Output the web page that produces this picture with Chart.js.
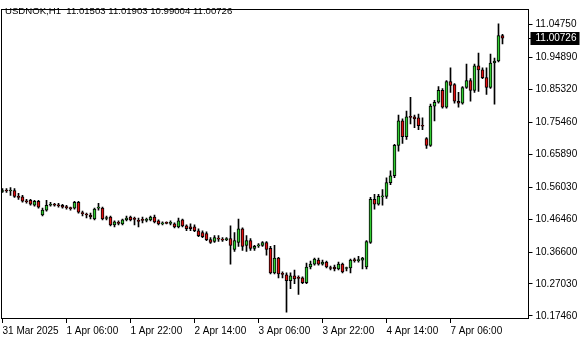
<!DOCTYPE html>
<html>
<head>
<meta charset="utf-8">
<script src="https://cdn.jsdelivr.net/npm/chart.js@4.4.1/dist/chart.umd.min.js"></script>
<style>
  html, body { margin: 0; padding: 0; background: #fff; }
  #chart { display: block; }
</style>
</head>
<body>
<canvas id="chart" width="580" height="340"></canvas>
<script>
const symbolTitle = 'USDNOK,H1  11.01503 11.01903 10.99004 11.00726';

// hourly bars, 31 Mar 14:00 .. 7 Apr 19:00
const open = [
  10.5475, 10.5505, 10.5490, 10.5505, 10.5328, 10.5313, 10.5181, 10.5210, 10.5063, 10.5181,
  10.4769, 10.4916, 10.5063, 10.5093, 10.5063, 10.5063, 10.5004, 10.4975, 10.4975, 10.5151,
  10.4828, 10.4798, 10.4769, 10.4651, 10.4975, 10.4975, 10.4666, 10.4710, 10.4475, 10.4534,
  10.4504, 10.4622, 10.4710, 10.4651, 10.4592, 10.4622, 10.4607, 10.4622, 10.4710, 10.4592,
  10.4504, 10.4534, 10.4519, 10.4504, 10.4416, 10.4622, 10.4445, 10.4416, 10.4416, 10.4298,
  10.4240, 10.4210, 10.4034, 10.3975, 10.4063, 10.4034, 10.4034, 10.4063, 10.3739, 10.3945,
  10.4357, 10.3857, 10.4004, 10.3769, 10.3842, 10.3857, 10.3945, 10.3769, 10.3034, 10.3475,
  10.3004, 10.2975, 10.2798, 10.2946, 10.2887, 10.2887, 10.2740, 10.3210, 10.3298, 10.3416,
  10.3298, 10.3357, 10.3181, 10.3210, 10.3151, 10.3298, 10.3166, 10.3181, 10.3416, 10.3401,
  10.3416, 10.3210, 10.3945, 10.5240, 10.5093, 10.5313, 10.5328, 10.5740, 10.5946, 10.6857,
  10.7593, 10.7122, 10.7710, 10.7710, 10.7681, 10.7445, 10.7063, 10.6857, 10.8034, 10.8151,
  10.8504, 10.8004, 10.8769, 10.8681, 10.8181, 10.8122, 10.8593, 10.8798, 10.8504, 10.9240,
  10.9122, 10.8887, 10.8593, 10.9328, 10.9387, 11.0150
];
const high = [
  10.5563, 10.5563, 10.5593, 10.5563, 10.5416, 10.5357, 10.5240, 10.5240, 10.5210, 10.5210,
  10.4975, 10.5210, 10.5151, 10.5122, 10.5122, 10.5093, 10.5063, 10.5004, 10.5181, 10.5181,
  10.4887, 10.4828, 10.4828, 10.4975, 10.5122, 10.5004, 10.4739, 10.4739, 10.4592, 10.4592,
  10.4651, 10.4739, 10.4739, 10.4710, 10.4681, 10.4710, 10.4681, 10.4739, 10.4769, 10.4622,
  10.4563, 10.4563, 10.4592, 10.4534, 10.4681, 10.4651, 10.4475, 10.4504, 10.4475, 10.4357,
  10.4298, 10.4269, 10.4092, 10.4151, 10.4151, 10.4092, 10.4092, 10.4445, 10.4240, 10.4651,
  10.4386, 10.4151, 10.4063, 10.3857, 10.3916, 10.3975, 10.3975, 10.3828, 10.3857, 10.3504,
  10.3063, 10.3034, 10.3034, 10.3122, 10.2946, 10.2916, 10.3328, 10.3387, 10.3475, 10.3475,
  10.3416, 10.3387, 10.3240, 10.3269, 10.3357, 10.3328, 10.3210, 10.3445, 10.3475, 10.3534,
  10.3504, 10.4004, 10.5299, 10.5387, 10.5387, 10.5534, 10.5887, 10.6093, 10.6887, 10.7769,
  10.7651, 10.7887, 10.8299, 10.7769, 10.7798, 10.7681, 10.7092, 10.8093, 10.8210, 10.8622,
  10.8563, 10.8798, 10.9181, 10.8710, 10.8445, 10.8622, 10.9298, 10.8857, 10.9298, 10.9622,
  10.9181, 10.9181, 10.9592, 10.9475, 11.0505, 11.0190
];
const low = [
  10.5446, 10.5446, 10.5357, 10.5299, 10.5240, 10.5151, 10.5122, 10.5063, 10.5034, 10.4975,
  10.4739, 10.4887, 10.5034, 10.5034, 10.5004, 10.4975, 10.4945, 10.4916, 10.4945, 10.4828,
  10.4739, 10.4681, 10.4651, 10.4622, 10.4916, 10.4622, 10.4622, 10.4445, 10.4416, 10.4475,
  10.4475, 10.4592, 10.4592, 10.4475, 10.4416, 10.4534, 10.4563, 10.4592, 10.4534, 10.4475,
  10.4475, 10.4504, 10.4475, 10.4386, 10.4386, 10.4416, 10.4298, 10.4298, 10.4269, 10.4122,
  10.4092, 10.4004, 10.3916, 10.3945, 10.3975, 10.3975, 10.4004, 10.3298, 10.3681, 10.3828,
  10.3710, 10.3681, 10.3710, 10.3710, 10.3798, 10.3828, 10.3563, 10.3004, 10.3004, 10.2887,
  10.2887, 10.1857, 10.2563, 10.2710, 10.2387, 10.2710, 10.2710, 10.3151, 10.3269, 10.3269,
  10.3269, 10.3181, 10.3122, 10.3093, 10.3122, 10.3034, 10.3093, 10.3034, 10.3357, 10.3357,
  10.3151, 10.3151, 10.3916, 10.4945, 10.5063, 10.5063, 10.5269, 10.5681, 10.5887, 10.6681,
  10.6916, 10.7034, 10.7504, 10.7386, 10.7328, 10.7328, 10.6769, 10.6828, 10.7593, 10.8122,
  10.7975, 10.7975, 10.8445, 10.8122, 10.8004, 10.8093, 10.8563, 10.8181, 10.8445, 10.8475,
  10.8857, 10.8387, 10.8563, 10.8093, 10.9357, 10.9900
];
const close = [
  10.5505, 10.5490, 10.5505, 10.5328, 10.5299, 10.5181, 10.5166, 10.5093, 10.5181, 10.5004,
  10.4916, 10.5063, 10.5093, 10.5063, 10.5048, 10.5004, 10.4990, 10.4960, 10.5151, 10.4857,
  10.4813, 10.4769, 10.4710, 10.4945, 10.5004, 10.4651, 10.4681, 10.4475, 10.4563, 10.4519,
  10.4622, 10.4681, 10.4622, 10.4637, 10.4578, 10.4607, 10.4622, 10.4710, 10.4563, 10.4504,
  10.4519, 10.4519, 10.4534, 10.4416, 10.4592, 10.4445, 10.4357, 10.4357, 10.4298, 10.4151,
  10.4122, 10.4034, 10.3945, 10.4092, 10.4048, 10.4019, 10.4048, 10.3857, 10.4004, 10.4357,
  10.3828, 10.4004, 10.3769, 10.3828, 10.3857, 10.3945, 10.3739, 10.3034, 10.3475, 10.3004,
  10.2990, 10.2798, 10.2946, 10.2857, 10.2872, 10.2740, 10.3210, 10.3298, 10.3445, 10.3298,
  10.3357, 10.3210, 10.3166, 10.3151, 10.3298, 10.3063, 10.3181, 10.3416, 10.3401, 10.3416,
  10.3475, 10.3975, 10.5240, 10.5093, 10.5328, 10.5328, 10.5740, 10.5946, 10.6857, 10.7593,
  10.7122, 10.7710, 10.7695, 10.7651, 10.7445, 10.7431, 10.6857, 10.8034, 10.8151, 10.8504,
  10.8004, 10.8769, 10.8652, 10.8181, 10.8122, 10.8593, 10.8798, 10.8504, 10.9240, 10.9122,
  10.8887, 10.8593, 10.9328, 10.9387, 11.0151, 11.00726
];

const timeLabels = ['31 Mar 2025', '1 Apr 06:00', '1 Apr 22:00', '2 Apr 14:00',
                    '3 Apr 06:00', '3 Apr 22:00', '4 Apr 14:00', '7 Apr 06:00'];
const barsPerLabel = 16;
const priceTicks = [11.04750, 10.94890, 10.85320, 10.75460, 10.65890,
                    10.56030, 10.46460, 10.36600, 10.27030, 10.17460];
const lastPrice = 11.00726;

const totalSlots = 132; // bars + empty shift on the right
const labels = Array.from({ length: totalSlots }, (_, i) => i);

const bodies = open.map((o, i) => [o, close[i]]);
const wicks = low.map((l, i) => [l, high[i]]);
const bodyColors = open.map((o, i) => close[i] >= o ? '#32cd32' : '#e01010');

const FAMILY = "'Liberation Sans', Arial, sans-serif";
const FONT = { family: FAMILY, size: 10 };

const framePlugin = {
  id: 'frame',
  afterDraw(chart) {
    const { ctx, chartArea } = chart;
    const l = Math.round(chartArea.left) + 0.5;
    const t = Math.round(chartArea.top) + 0.5;
    const r = Math.round(chartArea.right) - 0.5;
    const b = Math.round(chartArea.bottom) - 0.5;
    ctx.save();
    ctx.strokeStyle = '#000';
    ctx.lineWidth = 1;
    ctx.strokeRect(l, t, r - l, b - t);

    // title in the corner
    ctx.fillStyle = '#000';
    ctx.font = `9.6px ${FAMILY}`;
    ctx.textBaseline = 'middle';
    ctx.textAlign = 'left';
    ctx.fillText(symbolTitle, 5, 11);

    // current price tag on the axis
    ctx.font = `10px ${FAMILY}`;
    const y = Math.round(chart.scales.y.getPixelForValue(lastPrice));
    ctx.fillRect(r, y, 5, 1);
    ctx.fillRect(r + 2, y - 6, 49, 13);
    ctx.fillStyle = '#fff';
    ctx.fillText(lastPrice.toFixed(5), r + 7, y + 0.5);
    ctx.restore();
  }
};

new Chart(document.getElementById('chart'), {
  type: 'bar',
  data: {
    labels: labels,
    datasets: [
      {
        data: bodies,
        backgroundColor: bodyColors,
        borderColor: '#000',
        borderWidth: 1,
        borderSkipped: false,
        barThickness: 3,
        minBarLength: 1,
        order: 0
      },
      {
        data: wicks,
        backgroundColor: '#000',
        borderWidth: 0,
        barThickness: 1,
        order: 1
      }
    ]
  },
  options: {
    responsive: false,
    animation: false,
    layout: { padding: { left: 0.5, top: 3, right: 0, bottom: 0 } },
    plugins: { legend: { display: false }, tooltip: { enabled: false } },
    scales: {
      x: {
        stacked: true,
        border: { display: false },
        grid: { drawOnChartArea: false, drawTicks: true, tickLength: 4, color: '#000', offset: false },
        afterBuildTicks(scale) {
          scale.ticks = timeLabels.map((_, k) => ({ value: k * barsPerLabel }));
        },
        afterFit(scale) { scale.height = 21; },
        ticks: {
          autoSkip: false,
          maxRotation: 0,
          align: 'start',
          padding: 2,
          color: '#000',
          font: FONT,
          callback: (value) => timeLabels[Math.round(value / barsPerLabel)]
        }
      },
      y: {
        position: 'right',
        min: 10.1652,
        max: 11.0946,
        border: { display: false },
        grid: { drawOnChartArea: false, drawTicks: true, tickLength: 4, color: '#000' },
        afterBuildTicks(scale) {
          scale.ticks = priceTicks.map(v => ({ value: v }));
        },
        afterFit(scale) { scale.width = 51.5; },
        ticks: {
          padding: 3,
          color: '#000',
          font: FONT,
          callback: (value) => value.toFixed(5)
        }
      }
    }
  },
  plugins: [framePlugin]
});
</script>
</body>
</html>
